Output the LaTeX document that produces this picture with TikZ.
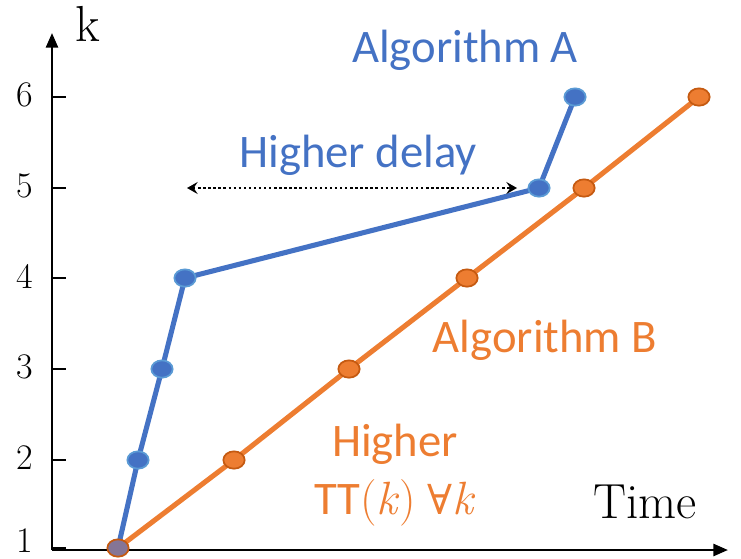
\documentclass[tikz,border=0pt]{standalone}
\usepackage{fontspec}
\newfontfamily\calib{Carlito}
\newfontfamily\dvserif{DejaVu Serif}
\usetikzlibrary{arrows.meta,shapes.geometric}
\definecolor{ablue}{HTML}{4472C4}
\definecolor{ablueb}{HTML}{5B9BD5}
\definecolor{borange}{HTML}{ED7D31}
\definecolor{borangeb}{HTML}{C55A11}
\definecolor{mixc}{HTML}{857596}
\tikzset{
  axisline/.style={line width=2pt, -{Triangle[length=11pt,width=9pt]}},
  tickline/.style={line width=1.8pt},
  ticklab/.style={font=\fontsize{27}{30}\selectfont, anchor=center, inner sep=0pt},
  bline/.style={ablue, line width=3.8pt},
  oline/.style={borange, line width=3.8pt},
  bmark/.style={ellipse, fill=ablue, draw=ablueb, line width=1.3pt, minimum width=16pt, minimum height=13pt, inner sep=0pt},
  omark/.style={ellipse, fill=borange, draw=borangeb, line width=1.3pt, minimum width=16pt, minimum height=13pt, inner sep=0pt},
  ctext/.style={font=\calib\fontsize{35}{42}\selectfont, inner sep=0pt}
}
\begin{document}
\begin{tikzpicture}[x=0.75pt,y=-0.75pt]
\useasboundingbox (0,0) rectangle (741,558);
% axes
\coordinate (O) at (52,550);
\coordinate (ytop) at (52,33);
\coordinate (xend) at (728,550);
\draw[axisline] (O) -- (ytop);
\draw[axisline] (O) -- (xend);
\node[font=\fontsize{38}{44}\selectfont, inner sep=0pt] (klab) at (88,24) {k};
\node[font=\fontsize{37}{44}\selectfont, inner sep=0pt] (timelab) at (645,502) {Time};
% ticks
\foreach \v/\yy/\ly in {1/548/541,2/460/458,3/369/367,4/278/276,5/188/186,6/97/95}{
  \coordinate (t\v) at (52,\yy);
  \coordinate (te\v) at (66,\yy);
  \draw[tickline] (t\v) -- (te\v);
  \node[ticklab] (tl\v) at (25,\ly) {\v};
}
% points
\coordinate (b1) at (118,548);
\coordinate (b2) at (138,460);
\coordinate (b3) at (162,369);
\coordinate (b4) at (185,278);
\coordinate (b5) at (539,188);
\coordinate (b6) at (575,97);
\coordinate (o1) at (118,548);
\coordinate (o2) at (234,460);
\coordinate (o3) at (349,369);
\coordinate (o4) at (467,278);
\coordinate (o5) at (584,188);
\coordinate (o6) at (699,97);
\draw[oline] (o1) -- (o2) -- (o3) -- (o4) -- (o5) -- (o6);
\draw[bline] (b1) -- (b2) -- (b3) -- (b4) -- (b5) -- (b6);
\foreach \i in {2,...,6}{
  \node[omark] (om\i) at (o\i) {};
  \node[bmark] (bm\i) at (b\i) {};
}
\node[omark, fill=mixc] (om1) at (o1) {};
% delay arrow
\coordinate (dl) at (187,188);
\coordinate (dr) at (517,188);
\draw[dotted, line width=1.8pt, {Stealth[length=8pt,width=9pt,inset=3pt]}-{Stealth[length=8pt,width=9pt,inset=3pt]}] (dl) -- (dr);
% labels
\node[ctext, text=ablue] (algA) at (465,50) {Algorithm A};
\node[ctext, text=ablue] (hdelay) at (358,155) {Higher delay};
\node[ctext, text=borange] (algB) at (545,340) {Algorithm B};
\node[ctext, text=borange] (higher) at (395,444) {Higher};
\node[ctext, text=borange] (tt) at (395,503) {TT{\rmfamily(\textit{k})\hspace{0.25em}{\dvserif\fontsize{31}{36}\selectfont ∀}\textit{k}}};
\end{tikzpicture}
\end{document}
